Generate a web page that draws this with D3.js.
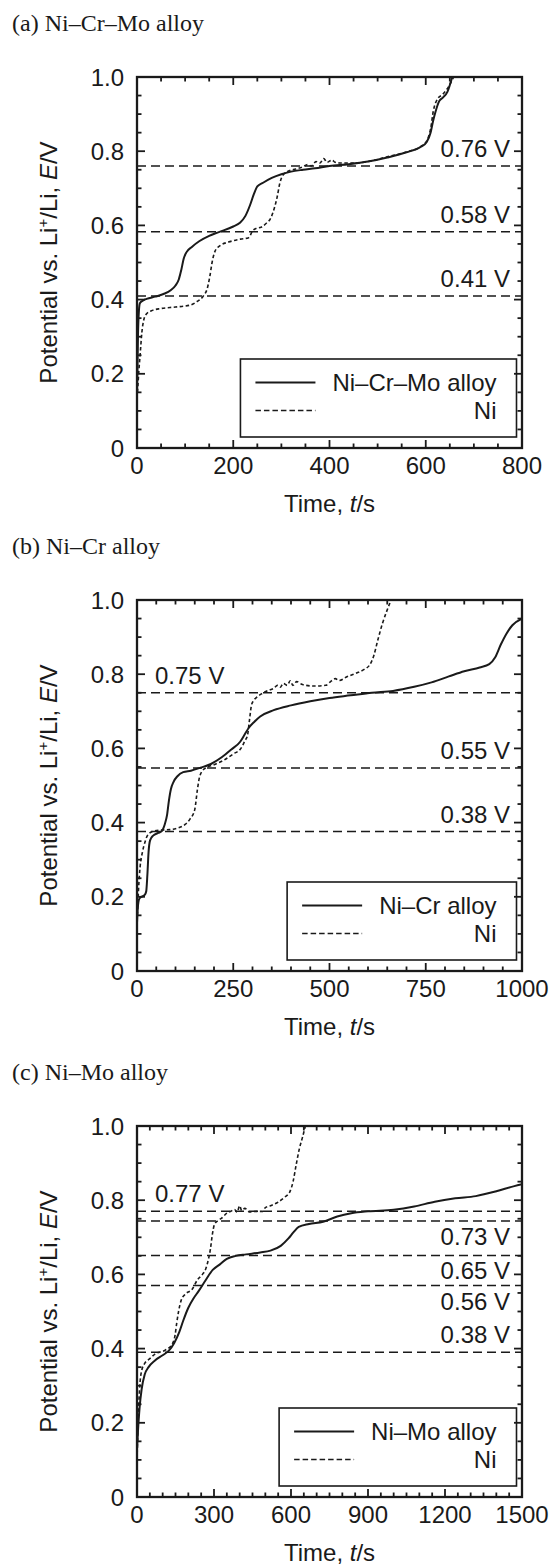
<!DOCTYPE html>
<html><head><meta charset="utf-8">
<script src="https://cdn.jsdelivr.net/npm/d3@7"></script>
<style>body{margin:0;background:#fff} svg{display:block}</style>
</head><body>
<svg id="chart" width="553" height="1567"></svg>
<script>
// ---------------- DATA ----------------
const panelTitles = ["(a) Ni–Cr–Mo alloy", "(b) Ni–Cr alloy", "(c) Ni–Mo alloy"];
const alloyNames = ["Ni–Cr–Mo alloy", "Ni–Cr alloy", "Ni–Mo alloy"];
const refName = "Ni";
const xMaxes = [800, 1000, 1500];
const xTickLabels = [[0, 200, 400, 600, 800], [0, 250, 500, 750, 1000], [0, 300, 600, 900, 1200, 1500]];
const yTickLabels = [0, 0.2, 0.4, 0.6, 0.8, 1.0];

// (a) Ni–Cr–Mo alloy vs Ni
const aAlloyT = [0,1,2,4,6,12,20,38,55,70,80,87,92,97,103,114,130,150,170,200,214,225,235,243,250,262,280,300,320,345,370,400,440,480,520,560,590,602,610,615,620,628,636,645,655];
const aAlloyE = [0.15,0.22,0.30,0.37,0.39,0.397,0.402,0.408,0.415,0.425,0.438,0.455,0.48,0.51,0.528,0.542,0.558,0.572,0.582,0.597,0.607,0.625,0.655,0.685,0.705,0.715,0.728,0.738,0.745,0.75,0.754,0.76,0.765,0.772,0.783,0.797,0.812,0.825,0.85,0.88,0.905,0.935,0.945,0.96,1.0];
const aNiT = [1,4,7,10,14,20,30,50,80,110,125,138,146,151,156,162,172,190,215,232,240,248,258,268,278,285,291,297,303,314,330,345,355,362,372,380,388,395,405,412,425,450,480,520,560,590,603,610,616,624,635,648,658];
const aNiE = [0.15,0.21,0.26,0.31,0.345,0.362,0.37,0.376,0.38,0.385,0.395,0.41,0.43,0.46,0.5,0.53,0.545,0.555,0.563,0.567,0.585,0.592,0.595,0.605,0.62,0.645,0.675,0.715,0.735,0.746,0.752,0.758,0.764,0.76,0.772,0.768,0.78,0.77,0.776,0.77,0.768,0.768,0.772,0.785,0.798,0.813,0.83,0.86,0.91,0.94,0.953,0.975,1.0];

// (b) Ni–Cr alloy vs Ni
const bAlloyT = [0,2,6,12,20,24,27,30,34,42,55,65,72,78,83,88,95,105,120,140,165,192,220,245,268,280,290,305,320,355,400,450,500,555,610,665,720,765,810,850,890,915,930,945,960,975,1000];
const bAlloyE = [0.13,0.17,0.195,0.2,0.205,0.215,0.26,0.32,0.352,0.365,0.372,0.378,0.395,0.42,0.46,0.49,0.51,0.525,0.536,0.54,0.548,0.558,0.576,0.597,0.618,0.638,0.655,0.672,0.686,0.703,0.716,0.727,0.736,0.743,0.75,0.755,0.766,0.778,0.794,0.808,0.818,0.827,0.845,0.88,0.91,0.932,0.95];
const bNiT = [1,4,8,14,20,27,40,60,85,105,125,138,150,157,163,175,200,225,250,270,280,287,292,297,302,310,325,340,355,365,372,380,390,398,405,415,430,460,490,505,515,525,545,570,590,605,615,625,637,648,660];
const bNiE = [0.15,0.22,0.28,0.32,0.345,0.365,0.376,0.38,0.381,0.385,0.395,0.41,0.435,0.49,0.525,0.545,0.556,0.568,0.585,0.6,0.62,0.635,0.675,0.715,0.728,0.737,0.748,0.756,0.762,0.77,0.765,0.775,0.77,0.782,0.77,0.78,0.772,0.768,0.77,0.782,0.788,0.783,0.793,0.803,0.813,0.826,0.85,0.89,0.935,0.968,1.0];

// (c) Ni–Mo alloy vs Ni
const cAlloyT = [0,4,10,18,30,45,70,100,125,145,165,180,200,220,240,268,295,323,350,385,425,480,520,560,590,610,630,670,725,780,835,900,1000,1080,1160,1240,1320,1400,1470,1500];
const cAlloyE = [0.13,0.18,0.24,0.29,0.33,0.35,0.368,0.382,0.395,0.415,0.445,0.475,0.51,0.535,0.555,0.585,0.612,0.627,0.642,0.65,0.654,0.659,0.664,0.677,0.697,0.714,0.728,0.736,0.742,0.756,0.765,0.77,0.774,0.783,0.796,0.805,0.811,0.824,0.838,0.843];
const cNiT = [0,3,7,12,18,30,50,70,110,135,148,155,162,172,190,215,235,255,268,278,286,293,302,315,330,350,365,380,390,400,408,420,440,465,490,500,520,550,575,595,608,620,633,645,656];
const cNiE = [0.1,0.17,0.25,0.31,0.34,0.36,0.373,0.385,0.396,0.41,0.435,0.47,0.5,0.53,0.548,0.56,0.585,0.6,0.615,0.64,0.668,0.705,0.735,0.745,0.752,0.765,0.77,0.775,0.768,0.785,0.772,0.778,0.768,0.77,0.77,0.78,0.785,0.795,0.808,0.822,0.85,0.895,0.94,0.97,1.0];

// reference potential lines
const aRefValues = [0.76, 0.583, 0.41];
const aRefLabels = ["0.76 V", "0.58 V", "0.41 V"];
const aRefPlace = ["above-right", "above-right", "above-right"];
const bRefValues = [0.75, 0.547, 0.376];
const bRefLabels = ["0.75 V", "0.55 V", "0.38 V"];
const bRefPlace = ["above-left", "above-right", "above-right"];
const cRefValues = [0.77, 0.744, 0.651, 0.57, 0.39];
const cRefLabels = ["0.77 V", "0.73 V", "0.65 V", "0.56 V", "0.38 V"];
const cRefPlace = ["above-left", "below-right", "below-right", "below-right", "above-right"];

// ---------------- DRAW ----------------
const zipPts = (T, E) => T.map((t, i) => [t, E[i]]);
const panels = [
  { alloy: zipPts(aAlloyT, aAlloyE), ni: zipPts(aNiT, aNiE), refs: aRefValues, refLabels: aRefLabels, refPlace: aRefPlace },
  { alloy: zipPts(bAlloyT, bAlloyE), ni: zipPts(bNiT, bNiE), refs: bRefValues, refLabels: bRefLabels, refPlace: bRefPlace },
  { alloy: zipPts(cAlloyT, cAlloyE), ni: zipPts(cNiT, cNiE), refs: cRefValues, refLabels: cRefLabels, refPlace: cRefPlace }
];

const svg = d3.select("#chart");
const SANS = "'Liberation Sans', Arial, Helvetica, sans-serif";
const SERIF = "'Liberation Serif', 'Times New Roman', Times, serif";
const INK = "#1a1a1a";
const L = 137, R = 522, PH = 371;
const tops = [77, 600, 1126];

panels.forEach((p, i) => {
  const top = tops[i], bot = top + PH;
  const xMax = xMaxes[i];
  const x = d3.scaleLinear().domain([0, xMax]).range([L, R]);
  const y = d3.scaleLinear().domain([0, 1]).range([bot, top]);
  const g = svg.append("g");

  // panel title
  g.append("text").attr("x", 12).attr("y", top - 46)
    .attr("font-family", SERIF).attr("font-size", 24).attr("fill", INK)
    .text(panelTitles[i]);

  const clipId = "clip" + i;
  svg.append("clipPath").attr("id", clipId).append("rect")
    .attr("x", L).attr("y", top).attr("width", R - L).attr("height", PH);

  // reference dashed lines + labels
  p.refs.forEach((v, k) => {
    g.append("line").attr("x1", L).attr("x2", R).attr("y1", y(v)).attr("y2", y(v))
      .attr("stroke", INK).attr("stroke-width", 1.5).attr("stroke-dasharray", "9,5");
    const place = p.refPlace[k];
    const above = place.startsWith("above");
    const right = place.endsWith("right");
    g.append("text")
      .attr("x", right ? R - 12 : L + 18)
      .attr("y", above ? y(v) - 9 : y(v) + 24)
      .attr("text-anchor", right ? "end" : "start")
      .attr("font-family", SANS).attr("font-size", 24).attr("fill", INK)
      .text(p.refLabels[k]);
  });

  // curves
  const line = d3.line().x(d => x(d[0])).y(d => y(d[1])).curve(d3.curveMonotoneX);
  const cg = g.append("g").attr("clip-path", `url(#${clipId})`);
  cg.append("path").attr("d", line(p.ni)).attr("fill", "none")
    .attr("stroke", INK).attr("stroke-width", 1.6).attr("stroke-dasharray", "3.5,2.5");
  cg.append("path").attr("d", line(p.alloy)).attr("fill", "none")
    .attr("stroke", INK).attr("stroke-width", 2);

  // legend
  const lgRight = R - 5.5, lgBottom = bot - 11, lgH = 78, lgTop = lgBottom - lgH;
  const lgG = g.append("g");
  const rect = lgG.append("rect");
  const t1 = lgG.append("text").attr("text-anchor", "end")
    .attr("font-family", SANS).attr("font-size", 24).attr("fill", INK)
    .attr("x", lgRight - 20).attr("y", lgTop + 23.5 + 8.5).text(alloyNames[i]);
  lgG.append("text").attr("text-anchor", "end")
    .attr("font-family", SANS).attr("font-size", 24).attr("fill", INK)
    .attr("x", lgRight - 20).attr("y", lgTop + 51.5 + 8.5).text(refName);
  const tw = t1.node().getComputedTextLength();
  const lineEnd = lgRight - 20 - tw - 17;
  const lineStart = lineEnd - 60;
  const lgLeft = lineStart - 15;
  rect.attr("x", lgLeft).attr("y", lgTop).attr("width", lgRight - lgLeft).attr("height", lgH)
    .attr("fill", "#fff").attr("stroke", INK).attr("stroke-width", 1.6);
  lgG.append("line").attr("x1", lineStart).attr("x2", lineEnd)
    .attr("y1", lgTop + 23.5).attr("y2", lgTop + 23.5)
    .attr("stroke", INK).attr("stroke-width", 2);
  lgG.append("line").attr("x1", lineStart).attr("x2", lineEnd)
    .attr("y1", lgTop + 51.5).attr("y2", lgTop + 51.5)
    .attr("stroke", INK).attr("stroke-width", 1.4).attr("stroke-dasharray", "5.5,3");

  // frame
  g.append("rect").attr("x", L).attr("y", top).attr("width", R - L).attr("height", PH)
    .attr("fill", "none").attr("stroke", INK).attr("stroke-width", 2.3);

  // ticks (inward, all four sides)
  const xMajor = xTickLabels[i];
  d3.range(0, xMax + 1e-6, 50).forEach(v => {
    const len = xMajor.includes(v) ? 8 : 4.5;
    g.append("line").attr("x1", x(v)).attr("x2", x(v)).attr("y1", bot).attr("y2", bot - len)
      .attr("stroke", INK).attr("stroke-width", 1.8);
    g.append("line").attr("x1", x(v)).attr("x2", x(v)).attr("y1", top).attr("y2", top + len)
      .attr("stroke", INK).attr("stroke-width", 1.8);
  });
  d3.range(0, 1.0001, 0.05).forEach(v => {
    const major = Math.abs(v * 5 - Math.round(v * 5)) < 1e-6;
    const len = major ? 8 : 4.5;
    g.append("line").attr("x1", L).attr("x2", L + len).attr("y1", y(v)).attr("y2", y(v))
      .attr("stroke", INK).attr("stroke-width", 1.8);
    g.append("line").attr("x1", R).attr("x2", R - len).attr("y1", y(v)).attr("y2", y(v))
      .attr("stroke", INK).attr("stroke-width", 1.8);
  });

  // tick labels
  xMajor.forEach(v => {
    g.append("text").attr("x", x(v)).attr("y", bot + 26).attr("text-anchor", "middle")
      .attr("font-family", SANS).attr("font-size", 24).attr("fill", INK).text(v);
  });
  yTickLabels.forEach(v => {
    g.append("text").attr("x", L - 13).attr("y", y(v) + 8.5).attr("text-anchor", "end")
      .attr("font-family", SANS).attr("font-size", 24).attr("fill", INK)
      .text(v === 0 ? "0" : v.toFixed(1));
  });

  // axis titles
  const xt = g.append("text").attr("x", (L + R) / 2).attr("y", bot + 64).attr("text-anchor", "middle")
    .attr("font-family", SANS).attr("font-size", 24).attr("fill", INK);
  xt.append("tspan").text("Time, ");
  xt.append("tspan").attr("font-style", "italic").text("t");
  xt.append("tspan").text("/s");

  const yt = g.append("text").attr("transform", `translate(57,${(top + bot) / 2}) rotate(-90)`)
    .attr("text-anchor", "middle")
    .attr("font-family", SANS).attr("font-size", 24).attr("fill", INK);
  yt.append("tspan").text("Potential vs. Li");
  yt.append("tspan").attr("font-size", 15).attr("dy", -9).text("+");
  yt.append("tspan").attr("dy", 9).text("/Li, ");
  yt.append("tspan").attr("font-style", "italic").text("E");
  yt.append("tspan").text("/V");
});
</script>
</body></html>
